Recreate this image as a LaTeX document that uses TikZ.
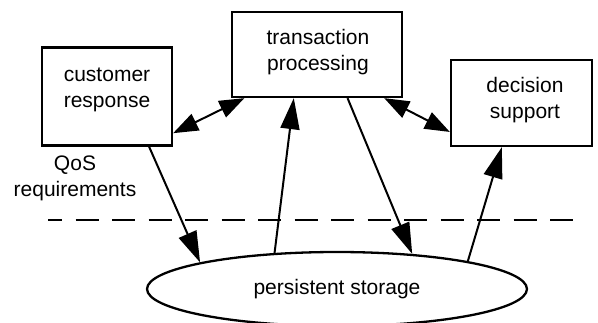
\documentclass[tikz,border=0pt]{standalone}
\usepackage{fontspec}
\setmainfont{Liberation Sans}
\usetikzlibrary{shapes.geometric,arrows.meta}

\begin{document}
\begin{tikzpicture}[x=1pt,y=-1pt,
  box/.style={draw,line width=2.3pt,inner sep=0pt},
  txt/.style={font=\fontsize{21}{26}\selectfont,align=center},
  arr/.style={line width=2pt,-{Triangle[length=31pt,width=19pt]}},
  darr/.style={line width=2pt,{Triangle[length=25pt,width=18pt]}-{Triangle[length=25pt,width=18pt]}}]
\useasboundingbox (0,0) rectangle (598,322);
\node[box,minimum width=130pt,minimum height=98pt] (cr) at (107,96.5) {};
\node[txt] (crt) at (107,90) {customer\\response};
\node[box,minimum width=170pt,minimum height=85pt] (tp) at (317,54.5) {};
\node[txt] (tpt) at (318,52) {transaction\\processing};
\node[box,minimum width=141pt,minimum height=86pt] (ds) at (521.5,103) {};
\node[txt] (dst) at (525,100) {decision\\support};
\node[box,ellipse,minimum width=380pt,minimum height=74pt,txt] (ps) at (337,289) {persistent storage};
\node[txt] (qos) at (75,178) {QoS\\requirements};
\coordinate (dl) at (48,220);
\coordinate (dr) at (578,220);
\draw[line width=2.3pt,dash pattern=on 23pt off 13.5pt,dash phase=9pt] (dl) -- (dr);
\draw[darr] (cr.-29) -- (tp.211);
\draw[darr] (tp.-33) -- (ds.202);
\draw[arr] (cr.-50) -- (ps.169);
\draw[arr] (ps.150) -- (tp.242);
\draw[arr] (tp.-55) -- (ps.25);
\draw[arr] (ps.12) -- (ds.246);
\end{tikzpicture}
\end{document}
